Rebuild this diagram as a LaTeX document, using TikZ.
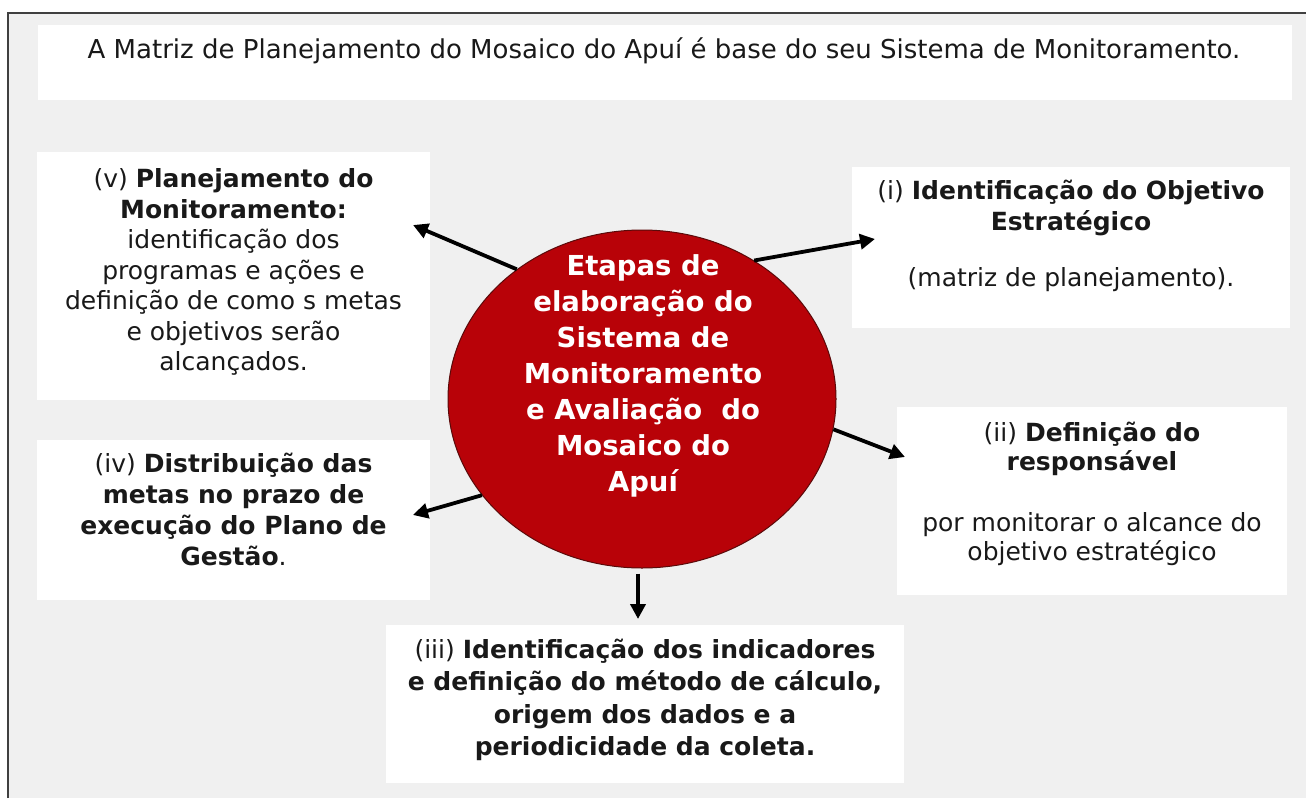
\documentclass[tikz,border=0pt]{standalone}
\usepackage{fontspec}
\setmainfont{DejaVu Sans}
\usetikzlibrary{shapes.geometric,arrows.meta}
\definecolor{bggray}{RGB}{240,240,240}
\definecolor{framegray}{RGB}{64,64,64}
\definecolor{discred}{RGB}{184,2,8}
\definecolor{discedge}{RGB}{90,10,10}
\definecolor{txtdark}{RGB}{25,25,25}
\begin{document}
\begin{tikzpicture}[x=1pt,y=-1pt,
  panel/.style={fill=white, draw=none, inner sep=0pt, anchor=north west},
  boxtext/.style={align=center, inner sep=0pt, text=txtdark,
    font=\fontsize{25}{30.5}\selectfont},
  disctext/.style={align=center, inner sep=0pt, text=white,
    font=\fontsize{27.5}{36}\selectfont\bfseries},
  arr/.style={line width=3.8pt, black, -{Triangle[length=15pt,width=15pt]}}]
\useasboundingbox (0,0) rectangle (1306,798);
% background and frame
\fill[white] (0,0) rectangle (1306,798);
\fill[bggray] (8,13) rectangle (1306,798);
\draw[framegray, line width=2.5pt] (8,798) -- (8,13) -- (1306,13);
% panels
\node[panel, minimum width=1254pt, minimum height=75pt] (btop) at (38,25) {};
\node[panel, minimum width=393pt, minimum height=248pt] (bv) at (37,152) {};
\node[panel, minimum width=393pt, minimum height=160pt] (biv) at (37,440) {};
\node[panel, minimum width=438pt, minimum height=161pt] (bi) at (852,167) {};
\node[panel, minimum width=390pt, minimum height=188pt] (bii) at (897,407) {};
\node[panel, minimum width=518pt, minimum height=158pt] (biii) at (386,625) {};
% texts
\node[boxtext, font=\fontsize{26}{30}\selectfont] (ttop) at (664,51)
  {A Matriz de Planejamento do Mosaico do Apuí é base do seu Sistema de Monitoramento.};
\node[boxtext] (tv) at (233.5,272)
  {(v) \textbf{Planejamento do}\\ \textbf{Monitoramento:}\\ identificação dos\\ programas e ações e\\ definição de como s metas\\ e objetivos serão\\ alcançados.};
\node[boxtext, font=\fontsize{25}{31}\selectfont] (tiv) at (233.5,509)
  {(iv) \textbf{Distribuição das}\\ \textbf{metas no prazo de}\\ \textbf{execução do Plano de}\\ \textbf{Gestão}.};
\node[boxtext] (ti) at (1071,236)
  {(i) \textbf{Identificação do Objetivo}\\ \textbf{Estratégico}\\[26pt] (matriz de planejamento).};
\node[boxtext, font=\fontsize{25}{28.5}\selectfont] (tii) at (1092,494)
  {(ii) \textbf{Definição do}\\ \textbf{responsável}\\[33pt] por monitorar o alcance do\\ objetivo estratégico};
\node[boxtext, font=\fontsize{25}{32.3}\selectfont] (tiii) at (645,700)
  {(iii) \textbf{Identificação dos indicadores}\\ \textbf{e definição do método de cálculo,}\\ \textbf{origem dos dados e a}\\ \textbf{periodicidade da coleta.}};
% central disc
\node[ellipse, fill=discred, draw=discedge, line width=1pt, inner sep=0pt,
  minimum width=388pt, minimum height=338pt] (c) at (642,399) {};
\node[disctext] (tc) at (643,375.5)
  {Etapas de\\ elaboração do\\ Sistema de\\ Monitoramento\\ e Avaliação\ \ do\\ Mosaico do\\ Apuí};
% arrow tips
\coordinate (pv) at (413,225);
\coordinate (pi) at (875,239);
\coordinate (pii) at (905,457);
\coordinate (piv) at (413,515);
\coordinate (piii) at (638,619);
\draw[arr] (c.134) -- (pv);
\draw[arr] (c.51) -- (pi);
\draw[arr] (c.-9) -- (pii);
\draw[arr] (c.211) -- (piv);
\draw[arr] ([xshift=-4pt,yshift=-5pt]c.south) -- (piii);
\end{tikzpicture}
\end{document}
